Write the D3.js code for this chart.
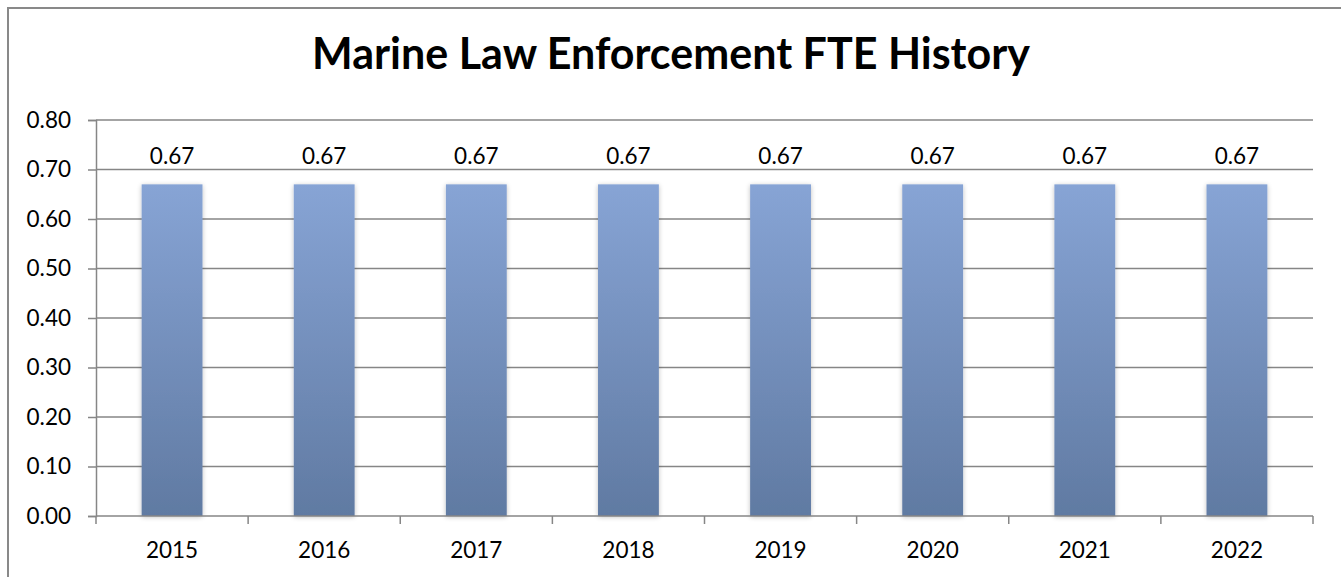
<!DOCTYPE html>
<html>
<head>
<meta charset="utf-8">
<script src="https://cdn.jsdelivr.net/npm/d3@7"></script>
<style>
  html, body { margin: 0; padding: 0; background: #fff; }
  text { font-family: Lato, "Open Sans", sans-serif; fill: #000; }
</style>
</head>
<body>
<div id="chart"></div>
<script>
// data
const years = ["2015", "2016", "2017", "2018", "2019", "2020", "2021", "2022"];
const fte = [0.67, 0.67, 0.67, 0.67, 0.67, 0.67, 0.67, 0.67];
const yTicks = [0, 0.1, 0.2, 0.3, 0.4, 0.5, 0.6, 0.7, 0.8];
const chartTitle = "Marine Law Enforcement FTE History";

const W = 1341, H = 577;
const plot = { left: 96, right: 1313, top: 120, bottom: 516 };
const gridColor = "#868686";
const labelSize = "22.5px";

const svg = d3.select("#chart").append("svg")
  .attr("width", W)
  .attr("height", H);

// bar gradient + soft shadow
const defs = svg.append("defs");
const grad = defs.append("linearGradient")
  .attr("id", "barGrad")
  .attr("x1", "0%").attr("y1", "0%")
  .attr("x2", "0%").attr("y2", "100%");
grad.append("stop").attr("offset", "0%").attr("stop-color", "#87a4d5");
grad.append("stop").attr("offset", "100%").attr("stop-color", "#607aa2");

const shadow = defs.append("filter")
  .attr("id", "shadow")
  .attr("x", "-20%").attr("y", "-10%")
  .attr("width", "140%").attr("height", "120%");
shadow.append("feGaussianBlur").attr("in", "SourceAlpha").attr("stdDeviation", 2.5).attr("result", "blur");
shadow.append("feOffset").attr("in", "blur").attr("dx", 0).attr("dy", 1).attr("result", "off");
shadow.append("feComponentTransfer").attr("in", "off").attr("result", "soft")
  .append("feFuncA").attr("type", "linear").attr("slope", 0.25);
const merge = shadow.append("feMerge");
merge.append("feMergeNode").attr("in", "soft");
merge.append("feMergeNode").attr("in", "SourceGraphic");

// outer frame (runs off the bottom/right like the original)
svg.append("rect")
  .attr("x", 8).attr("y", 8)
  .attr("width", W + 20).attr("height", H + 20)
  .attr("fill", "none")
  .attr("stroke", "#898989")
  .attr("stroke-width", 2);

// title
const title = svg.append("text")
  .attr("x", 671)
  .attr("y", 69)
  .attr("text-anchor", "middle")
  .style("font-size", "38px")
  .style("font-weight", "bold")
  .text(chartTitle);
const tw = title.node().getComputedTextLength();
title.style("font-size", (38 * 718 / tw) + "px");

// scales
const x = d3.scaleBand()
  .domain(years)
  .range([plot.left, plot.right])
  .paddingInner(0.6)
  .paddingOuter(0.3);

const y = d3.scaleLinear()
  .domain([0, 0.8])
  .range([plot.bottom, plot.top]);

// gridlines
svg.append("g")
  .selectAll("line")
  .data(yTicks.filter(d => d > 0))
  .join("line")
  .attr("x1", plot.left).attr("x2", plot.right)
  .attr("y1", d => y(d)).attr("y2", d => y(d))
  .attr("stroke", gridColor)
  .attr("stroke-width", 1.5);

// y axis
const yAxis = svg.append("g")
  .attr("transform", `translate(${plot.left},0)`)
  .call(d3.axisLeft(y).tickValues(yTicks).tickFormat(d3.format(".2f")).tickSize(8).tickPadding(17));
yAxis.select(".domain").attr("stroke", gridColor).attr("stroke-width", 1.5);
yAxis.selectAll(".tick line").attr("stroke", gridColor).attr("stroke-width", 1.5);
yAxis.selectAll(".tick text")
  .style("font-family", "Lato, sans-serif")
  .style("font-size", labelSize)
  .attr("fill", "#000");

// bars
svg.append("g")
  .selectAll("rect")
  .data(years.map((yr, i) => ({ yr, v: fte[i] })))
  .join("rect")
  .attr("x", d => x(d.yr))
  .attr("y", d => y(d.v))
  .attr("width", x.bandwidth())
  .attr("height", d => y(0) - y(d.v))
  .attr("fill", "url(#barGrad)")
  .attr("filter", "url(#shadow)");

// data labels
svg.append("g")
  .selectAll("text")
  .data(years.map((yr, i) => ({ yr, v: fte[i] })))
  .join("text")
  .attr("x", d => x(d.yr) + x.bandwidth() / 2)
  .attr("y", d => y(d.v) - 20)
  .attr("text-anchor", "middle")
  .style("font-size", labelSize)
  .text(d => d3.format(".2f")(d.v));

// x axis: ticks at category boundaries
const edges = d3.range(years.length + 1).map(i => plot.left + i * (plot.right - plot.left) / years.length);
const xAxis = svg.append("g");
xAxis.append("line")
  .attr("x1", plot.left).attr("x2", plot.right)
  .attr("y1", plot.bottom).attr("y2", plot.bottom)
  .attr("stroke", gridColor).attr("stroke-width", 1.5);
xAxis.selectAll("line.tk")
  .data(edges)
  .join("line")
  .attr("class", "tk")
  .attr("x1", d => d).attr("x2", d => d)
  .attr("y1", plot.bottom).attr("y2", plot.bottom + 8)
  .attr("stroke", gridColor).attr("stroke-width", 1.5);
xAxis.selectAll("text")
  .data(years)
  .join("text")
  .attr("x", d => x(d) + x.bandwidth() / 2)
  .attr("y", 558)
  .attr("text-anchor", "middle")
  .style("font-size", labelSize)
  .text(d => d);
</script>
</body>
</html>
